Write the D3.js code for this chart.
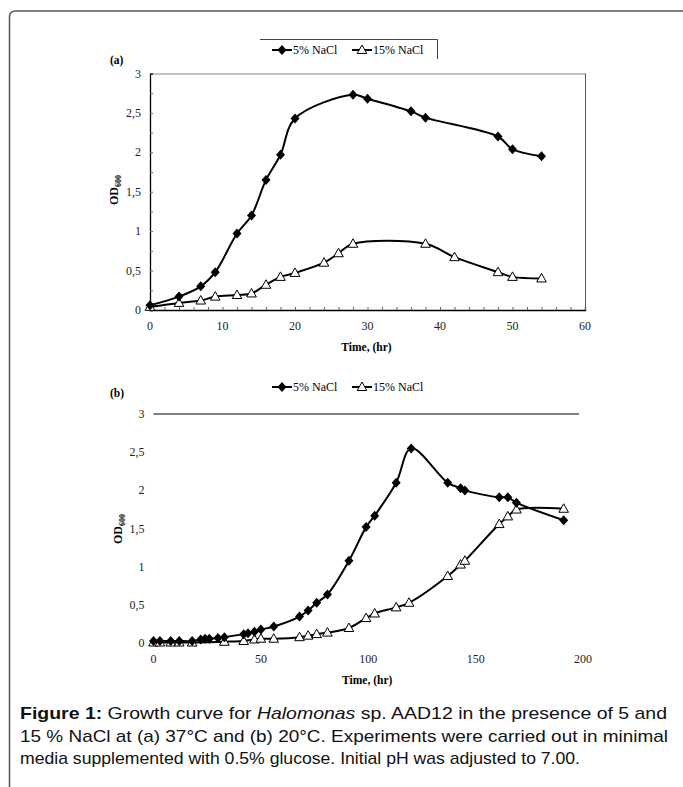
<!DOCTYPE html>
<html><head><meta charset="utf-8">
<script src="https://cdn.jsdelivr.net/npm/d3@7"></script>
<style>body{margin:0;background:#fff}svg{display:block}</style>
</head><body>
<svg id="c" width="683" height="787"></svg>
<script>
// ---------- data ----------
const seriesNames = ["5% NaCl", "15% NaCl"];
// Panel (a) 37 °C
const a5_t  = [0, 4, 7, 9, 12, 14, 16, 18, 20, 28, 30, 36, 38, 48, 50, 54];
const a5_od = [0.06, 0.17, 0.30, 0.48, 0.97, 1.20, 1.65, 1.97, 2.43, 2.73, 2.68, 2.52, 2.44, 2.20, 2.04, 1.95];
const a15_t  = [0, 4, 7, 9, 12, 14, 16, 18, 20, 24, 26, 28, 38, 42, 48, 50, 54];
const a15_od = [0.04, 0.09, 0.12, 0.17, 0.19, 0.21, 0.32, 0.42, 0.47, 0.60, 0.72, 0.84, 0.84, 0.67, 0.48, 0.42, 0.40];
// Panel (b) 20 °C
const b5_t  = [0, 3, 8, 12, 18, 22, 24, 26, 30, 33, 42, 44, 47, 50, 56, 68, 72, 76, 81, 91, 99, 103, 113, 120, 137, 143, 145, 161, 165, 169, 191];
const b5_od = [0.03, 0.03, 0.03, 0.03, 0.03, 0.05, 0.06, 0.06, 0.07, 0.08, 0.12, 0.13, 0.15, 0.18, 0.22, 0.35, 0.43, 0.53, 0.64, 1.08, 1.52, 1.67, 2.10, 2.55, 2.10, 2.03, 2.00, 1.91, 1.91, 1.84, 1.61];
const b15_t  = [0, 3, 8, 12, 18, 33, 42, 47, 50, 56, 68, 72, 76, 81, 91, 99, 103, 113, 119, 137, 143, 145, 161, 165, 169, 191];
const b15_od = [0.01, 0.01, 0.01, 0.01, 0.01, 0.02, 0.03, 0.05, 0.06, 0.06, 0.08, 0.10, 0.12, 0.14, 0.20, 0.33, 0.39, 0.47, 0.53, 0.88, 1.03, 1.08, 1.56, 1.66, 1.75, 1.76];
const aXTicks = [0, 10, 20, 30, 40, 50, 60];
const bXTicks = [0, 50, 100, 150, 200];
const yTicks = [0, 0.5, 1, 1.5, 2, 2.5, 3];
const xTitle = "Time, (hr)";
const captionLines = [
  [{t:"Figure 1:", b:true}, {t:" Growth curve for "}, {t:"Halomonas", i:true}, {t:" sp. AAD12 in the presence of 5 and"}],
  [{t:"15 % NaCl at (a) 37°C and (b) 20°C. Experiments were carried out in minimal"}],
  [{t:"media supplemented with 0.5% glucose. Initial pH was adjusted to 7.00."}]
];

const zip = (t, v) => t.map((d, i) => [d, v[i]]);
const fmt = d => String(d).replace(".", ",");
const svg = d3.select("#c");
const serif = "'Liberation Serif','Times New Roman',serif";

// frame
svg.append("path").attr("d", "M9.5,787 L9.5,17 Q9.5,11 15.5,11 L683,11")
  .attr("fill", "none").attr("stroke", "#555").attr("stroke-width", 1.5);

function diamond(g, x, y) {
  g.append("path").attr("d", `M${x},${y-5}L${x+4.5},${y}L${x},${y+5}L${x-4.5},${y}Z`).attr("fill", "#000");
}
function triangle(g, x, y) {
  g.append("path").attr("d", `M${x},${y-5}L${x+4.8},${y+3.5}L${x-4.8},${y+3.5}Z`)
    .attr("fill", "#fff").attr("stroke", "#000").attr("stroke-width", 1);
}

function panel(o) {
  const x = d3.scaleLinear().domain(o.xd).range([o.x0, o.x1]);
  const y = d3.scaleLinear().domain([0, 3]).range([o.y0, o.y1]);
  const g = svg.append("g");
  if (o.frame) {
    g.append("line").attr("x1", o.x0).attr("x2", o.x1).attr("y1", o.y1 + 0.5).attr("y2", o.y1 + 0.5).attr("stroke", "#888").attr("stroke-width", 1);
    g.append("line").attr("x1", o.x1 + 0.5).attr("x2", o.x1 + 0.5).attr("y1", o.y1).attr("y2", o.y0).attr("stroke", "#555").attr("stroke-width", 1);
    const ax = g.append("g").attr("transform", `translate(0,${o.y0})`)
      .call(d3.axisTop(x).tickValues(d3.range(o.xd[0], o.xd[1] + 0.001, 2)).tickSize(3).tickFormat(""));
    ax.select(".domain").attr("stroke-width", 1.3);
    ax.selectAll(".tick line").attr("stroke", "#666");
    const ay = g.append("g").attr("transform", `translate(${o.x0},0)`)
      .call(d3.axisRight(y).tickValues(d3.range(0, 3.001, 0.25)).tickSize(3).tickFormat(""));
    ay.select(".domain").attr("stroke-width", 1.3);
    ay.selectAll(".tick line").attr("stroke", "#666");
  } else {
    g.append("line").attr("x1", o.x0).attr("x2", o.x1 - 4).attr("y1", y(3)).attr("y2", y(3)).attr("stroke", "#000").attr("stroke-width", 1);
  }
  g.selectAll(".yl").data(yTicks).join("text").attr("x", o.x0 - 9).attr("y", d => y(d) + 4)
    .attr("text-anchor", "end").attr("font-family", serif).attr("font-size", 12).attr("fill", "#222").text(fmt);
  g.selectAll(".xl").data(o.xt).join("text").attr("x", d => x(d)).attr("y", o.y0 + 20)
    .attr("text-anchor", "middle").attr("font-family", serif).attr("font-size", 12).attr("fill", "#222").text(d => d);
  g.append("text").attr("x", (o.x0 + o.x1) / 2 - 1).attr("y", o.y0 + 41).attr("text-anchor", "middle")
    .attr("font-family", serif).attr("font-size", 11.5).attr("font-weight", "bold").text(xTitle);
  const yt = g.append("text").attr("transform", `translate(${o.x0 - 32},${o.ytY}) rotate(-90)`).attr("text-anchor", "middle")
    .attr("font-family", serif).attr("font-size", 12).attr("font-weight", "bold");
  yt.append("tspan").text("OD");
  yt.append("tspan").attr("font-size", 8).attr("dy", 3).text("600");
  g.append("text").attr("x", 110).attr("y", o.labY).attr("font-family", serif).attr("font-size", 11.5)
    .attr("font-weight", "bold").text(o.label);
  const line = d3.line().x(d => x(d[0])).y(d => y(d[1])).curve(d3.curveCatmullRom.alpha(0.5));
  const s5 = zip(o.t5, o.v5), s15 = zip(o.t15, o.v15);
  g.append("path").attr("d", line(s15)).attr("fill", "none").attr("stroke", "#000").attr("stroke-width", 2);
  g.append("path").attr("d", line(s5)).attr("fill", "none").attr("stroke", "#000").attr("stroke-width", 2);
  s15.forEach(d => triangle(g, x(d[0]), y(d[1])));
  s5.forEach(d => diamond(g, x(d[0]), y(d[1])));
  const lg = g.append("g");
  if (o.legendBox) {
    lg.append("path").attr("d", `M${o.lgx - 12},${o.lgy - 10.5} L${o.lgx + 165.5},${o.lgy - 10.5} L${o.lgx + 165.5},${o.lgy + 9}`)
      .attr("fill", "none").attr("stroke", "#444").attr("stroke-width", 1);
  }
  [0, 1].forEach(i => {
    const lx = o.lgx + i * 80;
    lg.append("line").attr("x1", lx).attr("x2", lx + 20).attr("y1", o.lgy).attr("y2", o.lgy).attr("stroke", "#000").attr("stroke-width", 2);
    if (i === 0) diamond(lg, lx + 10, o.lgy); else triangle(lg, lx + 10, o.lgy);
    lg.append("text").attr("x", lx + 21).attr("y", o.lgy + 4).attr("font-family", serif).attr("font-size", 12).text(seriesNames[i]);
  });
}

panel({xd: [0, 60], x0: 150, x1: 585, y0: 310, y1: 73.5, xt: aXTicks, frame: true,
  t5: a5_t, v5: a5_od, t15: a15_t, v15: a15_od, label: "(a)", labY: 64, ytY: 190,
  legendBox: true, lgx: 272, lgy: 50});
panel({xd: [0, 200], x0: 153.5, x1: 583, y0: 643.3, y1: 414, xt: bXTicks, frame: false,
  t5: b5_t, v5: b5_od, t15: b15_t, v15: b15_od, label: "(b)", labY: 397, ytY: 529,
  legendBox: false, lgx: 272, lgy: 387});

const sans = "'Liberation Sans',Arial,sans-serif";
const capY = [719, 742, 764];
const capW = [647, 648, 560];
captionLines.forEach((ln, i) => {
  const t = svg.append("text").attr("x", 20).attr("y", capY[i]).attr("font-family", sans).attr("font-size", 17).attr("fill", "#111")
    .attr("textLength", capW[i]).attr("lengthAdjust", "spacingAndGlyphs");
  ln.forEach(s => t.append("tspan").attr("font-weight", s.b ? "bold" : null).attr("font-style", s.i ? "italic" : null).text(s.t));
});
</script>
</body></html>
